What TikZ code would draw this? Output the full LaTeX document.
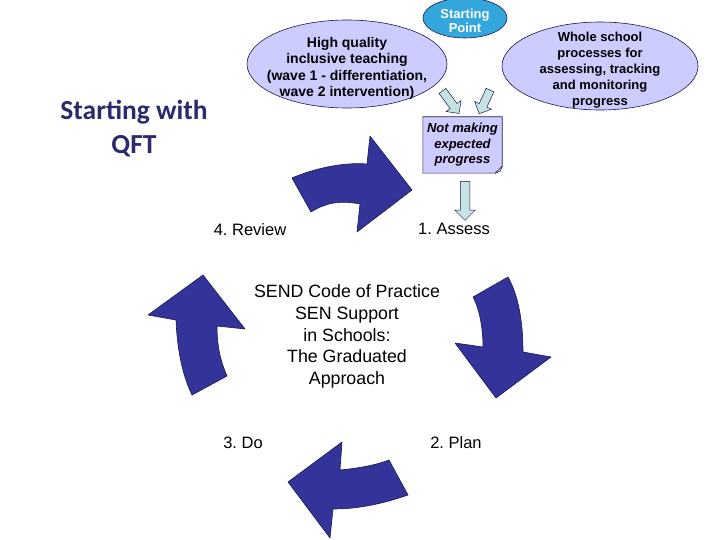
\documentclass[tikz,border=0pt]{standalone}
\usepackage{fontspec}
\setmainfont{Liberation Sans}
\newfontfamily\calibrifont{Carlito}
\usetikzlibrary{shapes.geometric, shapes.arrows}
\definecolor{cyclenavy}{HTML}{333399}
\definecolor{edgenavy}{HTML}{1A1A4D}
\definecolor{lavender}{HTML}{CCCCFF}
\definecolor{startblue}{HTML}{33A6DC}
\definecolor{paleteal}{HTML}{C6E2E2}
\definecolor{qftnavy}{HTML}{2A2A6E}
\frenchspacing

\begin{document}
\begin{tikzpicture}[x=1pt, y=-1pt,
    bubble/.style={ellipse, draw=edgenavy, fill=lavender, line width=0.6pt},
    bubbletext/.style={align=center, font=\fontsize{14}{16.3}\selectfont\bfseries},
    cyclearrow/.style={fill=cyclenavy, draw=edgenavy, line width=0.6pt, line join=round},
    blockarrow/.style={single arrow, draw=edgenavy, fill=paleteal, line width=0.5pt,
                       inner xsep=0pt, inner ysep=4pt, single arrow head extend=5pt},
    stagelabel/.style={font=\fontsize{16.5}{19}\selectfont}]

  \useasboundingbox[fill=white] (0,0) rectangle (720,540);

  % ellipses at the top
  \node[bubble, minimum width=200pt, minimum height=88pt,
        label={[bubbletext, yshift=-4.5pt]center:{High quality\\inclusive teaching\\(wave 1 - differentiation,\\wave 2 intervention)}}]
        (teaching) at (347,64) {};
  \node[bubble, fill=startblue, minimum width=84pt, minimum height=40pt,
        label={[bubbletext, yshift=-3pt, text=white, font=\fontsize{13}{14}\selectfont\bfseries]center:{Starting\\Point}}]
        (start) at (465,18) {};
  \node[bubble, minimum width=196pt, minimum height=88pt,
        label={[bubbletext, yshift=-4.5pt, font=\fontsize{13}{16}\selectfont\bfseries]center:{Whole school\\processes for\\assessing, tracking\\and monitoring\\progress}}]
        (whole) at (600,66) {};

  % note box
  \node[fill=lavender, minimum width=79pt, minimum height=56pt, align=center,
        font=\fontsize{13}{15.5}\selectfont\bfseries\itshape] (notprog) at (462.5,145) {Not making\\expected\\progress};
  \fill[white] ([yshift=7pt]notprog.south east) -- (notprog.south east) -- ([xshift=-7pt]notprog.south east) -- cycle;
  \draw[edgenavy, line width=0.6pt] (notprog.north west) -- (notprog.north east)
    -- ([yshift=7pt]notprog.south east) -- ([xshift=-7pt]notprog.south east)
    -- (notprog.south west) -- cycle;
  \draw[edgenavy, line width=0.6pt] ([yshift=7pt]notprog.south east) -- ([xshift=-2pt, yshift=2pt]notprog.south east)
    -- ([xshift=-7pt]notprog.south east);

  % small block arrows
  \node[blockarrow, rotate=-53.5, minimum height=28pt] (leftin) at (449.5,100.5) {};
  \node[blockarrow, rotate=-114.6, minimum height=26pt] (rightin) at (485.5,100) {};
  \node[blockarrow, rotate=-90, minimum height=39pt, inner ysep=4.5pt, single arrow head extend=5.5pt] (down) at (465,198.5) {};

  % stage labels
  \foreach \name/\pos/\lbl in {review/{250,230}/{4. Review}, assess/{454,229}/{1. Assess},
                               do/{243,443}/{3. Do}, plan/{456,443}/{2. Plan}}{
    \node[stagelabel] (\name) at (\pos) {\lbl};
  }

  \node[align=center, font=\fontsize{17.8}{21.8}\selectfont] (send) at (347,336.5)
    {SEND Code of Practice\\SEN Support\\in Schools:\\The Graduated\\Approach};

  \node[align=center, text=qftnavy, font=\fontsize{27.5}{34}\selectfont\calibrifont\bfseries] (qft) at (134,129)
    {Starting with\\QFT};

  % cycle arrows
  \filldraw[cyclearrow] (292,178) .. controls (315,168) and (345,162) .. (367,164) -- (370,136) -- (412,190)
    -- (357,232) -- (360,204) .. controls (340,200) and (325,203) .. (311,212) -- cycle;
  \filldraw[cyclearrow] (473,297) -- (508,277) .. controls (518,295) and (523,320) .. (523,352) -- (551,357)
    -- (496,398) -- (455,343) -- (483,347) .. controls (483,330) and (480,310) .. (473,297) -- cycle;
  \filldraw[cyclearrow] (389,460) -- (408,495) .. controls (385,503) and (360,509) .. (333,509) -- (330,538)
    -- (288,482) -- (342,442) -- (340,470) .. controls (360,468) and (376,465) .. (389,460) -- cycle;
  \filldraw[cyclearrow] (192,395) -- (227,376) .. controls (220,360) and (217,345) .. (217,326) -- (245,329)
    -- (203,275) -- (148,315) -- (176,320) .. controls (177,345) and (181,372) .. (192,395) -- cycle;
\end{tikzpicture}
\end{document}
